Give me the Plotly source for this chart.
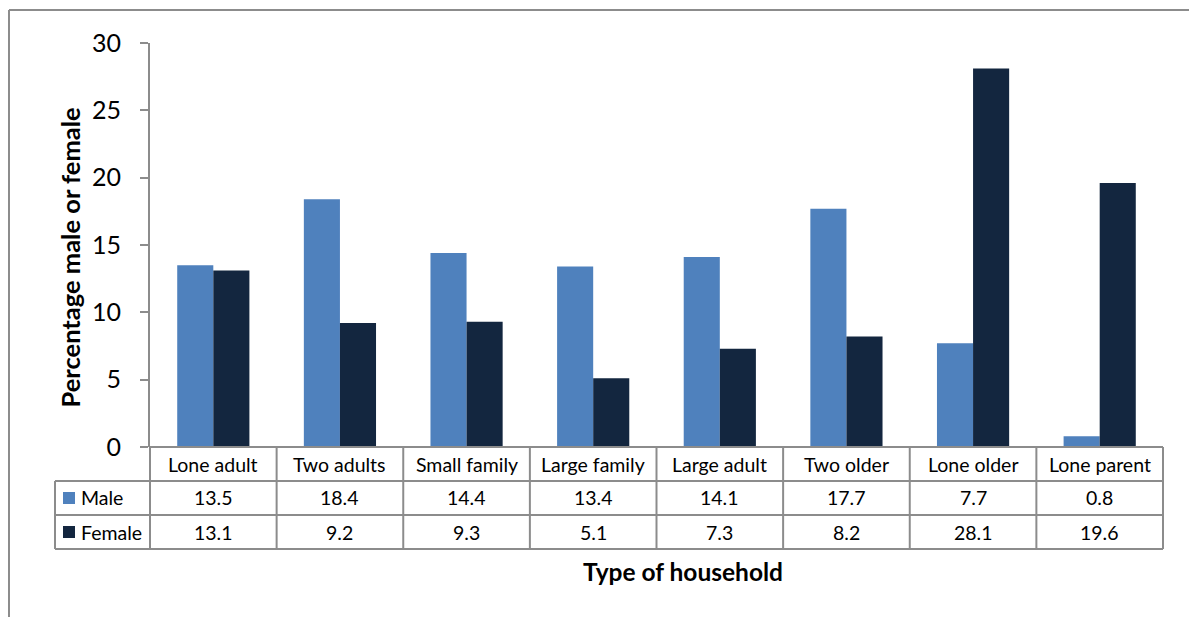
import plotly.graph_objects as go

categories = ["Lone adult", "Two adults", "Small family", "Large family",
              "Large adult", "Two older", "Lone older", "Lone parent"]
male = [13.5, 18.4, 14.4, 13.4, 14.1, 17.7, 7.7, 0.8]
female = [13.1, 9.2, 9.3, 5.1, 7.3, 8.2, 28.1, 19.6]
series = [("Male", male, "#4F81BD"), ("Female", female, "#13263F")]

FONT = "Lato, Open Sans, sans-serif"
GRID = "#8c8c8c"

fig = go.Figure()
for name, vals, color in series:
    fig.add_trace(go.Bar(x=categories, y=vals, name=name, marker_color=color,
                         marker_line_width=0))

# plot area geometry (px) used to convert table rows into paper units
plot_w, plot_h = 1013, 404
row_h = 34 / plot_h
n = len(categories)
left_col = -95 / plot_w  # left edge of legend column of the data table

shapes = []
annotations = []
line = dict(color=GRID, width=2)

def bx(i):
    # paper x of the boundary left of category i
    return i / n

# table: horizontal lines
for k in range(0, 4):
    x0 = left_col if k >= 1 else 0
    shapes.append(dict(type="line", xref="paper", yref="paper", x0=x0, x1=1,
                       y0=-k * row_h, y1=-k * row_h, line=line))
# table: vertical lines
for i in range(n + 1):
    shapes.append(dict(type="line", xref="paper", yref="paper", x0=bx(i), x1=bx(i),
                       y0=0, y1=-3 * row_h, line=line))
shapes.append(dict(type="line", xref="paper", yref="paper", x0=left_col, x1=left_col,
                   y0=-row_h, y1=-3 * row_h, line=line))

# category header row
for c in categories:
    annotations.append(dict(x=c, y=-0.5 * row_h, xref="x", yref="paper",
                            text=c, showarrow=False, xanchor="center", yanchor="middle",
                            font=dict(size=19.5, color="black", family=FONT)))
# value rows with legend keys
for r, (name, vals, color) in enumerate(series, start=1):
    yc = -(r + 0.5) * row_h
    for c, v in zip(categories, vals):
        annotations.append(dict(x=c, y=yc, xref="x", yref="paper", text=f"{v:.1f}",
                                showarrow=False, xanchor="center", yanchor="middle",
                                font=dict(size=19.5, color="black", family=FONT)))
    shapes.append(dict(type="rect", xref="paper", yref="paper",
                       x0=left_col + 8 / plot_w, x1=left_col + 20 / plot_w,
                       y0=yc - 6 / plot_h, y1=yc + 6 / plot_h,
                       fillcolor=color, line_width=0))
    annotations.append(dict(x=left_col + 24 / plot_w, y=yc, xref="paper", yref="paper",
                            text=name, showarrow=False, xanchor="left", yanchor="middle",
                            font=dict(size=19.5, color="black", family=FONT)))

# axis titles
annotations.append(dict(x=0.526, y=-0.309, xref="paper", yref="paper",
                        text="<b>Type of household</b>", showarrow=False,
                        xanchor="center", yanchor="middle",
                        font=dict(size=24.5, color="black", family=FONT)))
annotations.append(dict(x=-0.079, y=0.469, xref="paper", yref="paper",
                        text="<b>Percentage male or female</b>", showarrow=False,
                        xanchor="center", yanchor="middle",
                        textangle=-90, font=dict(size=25.5, color="black", family=FONT)))

# outer chart frame (top and left edges visible)
shapes.append(dict(type="line", xref="paper", yref="paper", x0=-0.1392, x1=1.1,
                   y0=1.0817, y1=1.0817, line=line))
shapes.append(dict(type="line", xref="paper", yref="paper", x0=-0.1392, x1=-0.1392,
                   y0=1.0817, y1=-0.5, line=line))

# the page body adds an 8px offset, so the figure is sized to fit inside the window
fig.update_layout(
    width=1189, height=609,
    margin=dict(l=142, r=34, t=35, b=170),
    barmode="group", bargap=0.43, bargroupgap=0,
    plot_bgcolor="white", paper_bgcolor="white",
    showlegend=False,
    shapes=shapes, annotations=annotations,
    font=dict(family=FONT, color="black"),
)
fig.update_xaxes(showticklabels=False, showgrid=False, zeroline=False,
                 showline=False, ticks="", range=[-0.5, n - 0.5])
fig.update_yaxes(range=[0, 30], dtick=5, showgrid=False, zeroline=False,
                 showline=True, linecolor=GRID, linewidth=2,
                 ticks="outside", ticklen=8, tickcolor=GRID, tickwidth=2,
                 ticklabelstandoff=14, tickfont=dict(size=25, color="black", family=FONT))

fig.write_html("out.html")
